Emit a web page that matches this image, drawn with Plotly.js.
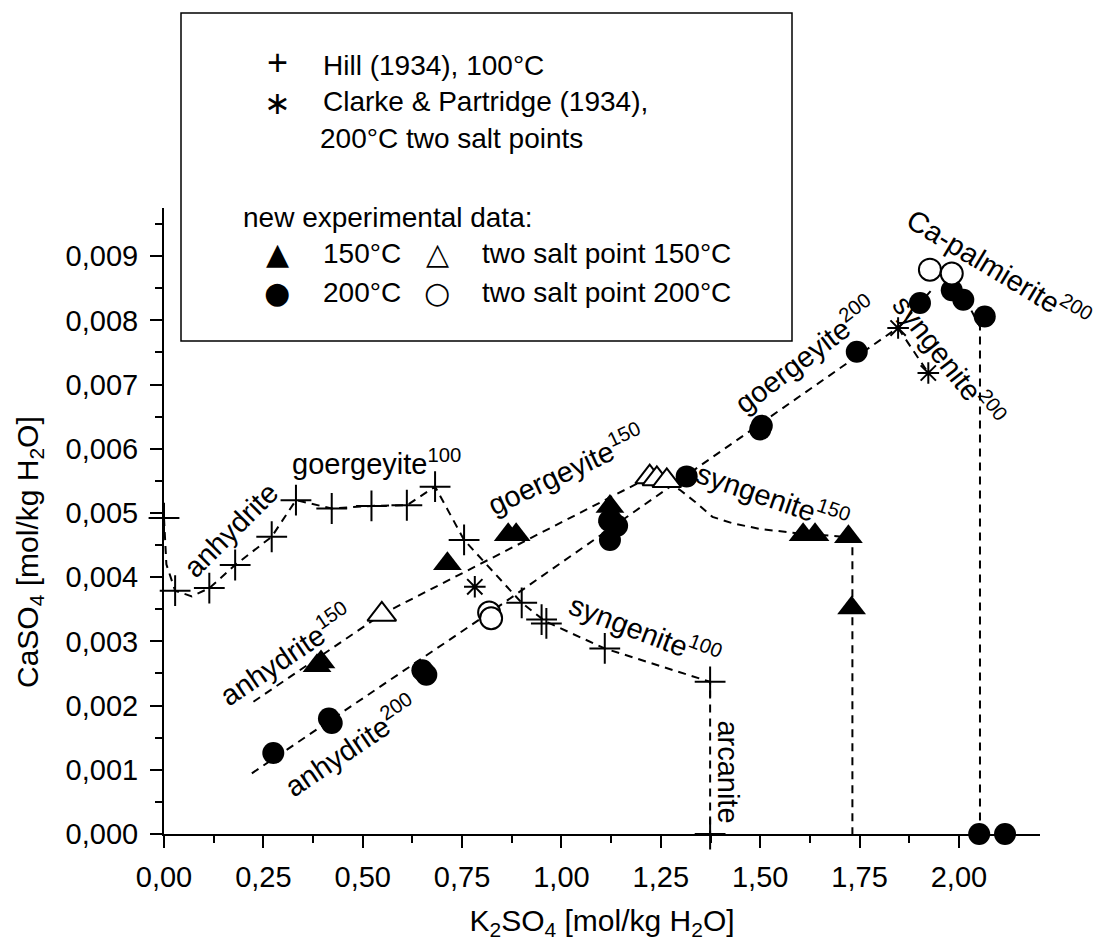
<!DOCTYPE html>
<html><head><meta charset="utf-8">
<script src="https://cdn.plot.ly/plotly-3.0.1.min.js"></script>
<style>html,body{margin:0;padding:0;background:#fff}</style>
</head><body><div id="chart" style="width:1101px;height:941px"></div>
<script>
// ---------- data ----------
// Hill (1934), 100 °C
const hillX = [0, 0.028, 0.114, 0.179, 0.271, 0.332, 0.422, 0.522, 0.611, 0.682, 0.755, 0.900, 0.950, 0.962, 1.109, 1.374, 1.374];
const hillY = [0.00492, 0.00379, 0.00383, 0.00419, 0.00463, 0.00520, 0.00507, 0.00511, 0.00512, 0.00541, 0.00458, 0.00360, 0.00334, 0.00328, 0.00289, 0.00237, 0];
// Clarke & Partridge (1934), 200 °C two salt points
const clarkeX = [0.782, 1.847, 1.923];
const clarkeY = [0.00385, 0.00788, 0.00718];
// new data 150 °C
const t150X = [0.385, 0.395, 0.713, 0.866, 0.886, 1.122, 1.128, 1.608, 1.638, 1.722, 1.730];
const t150Y = [0.00262, 0.00268, 0.00421, 0.00466, 0.00466, 0.00510, 0.00495, 0.00466, 0.00466, 0.00463, 0.00352];
// two salt points 150 °C
const t150TwoX = [0.548, 1.222, 1.240, 1.265];
const t150TwoY = [0.00342, 0.00556, 0.00553, 0.00550];
// new data 200 °C
const c200X = [0.275, 0.415, 0.422, 0.650, 0.660, 1.120, 1.140, 1.122, 1.315, 1.500, 1.504, 1.743, 1.902, 1.982, 2.011, 2.065, 2.051, 2.116];
const c200Y = [0.00126, 0.00180, 0.00173, 0.00255, 0.00248, 0.00488, 0.00480, 0.00458, 0.00557, 0.00630, 0.00636, 0.00751, 0.00827, 0.00847, 0.00832, 0.00806, 0, 0];
// two salt points 200 °C
const c200TwoX = [0.818, 0.823, 1.927, 1.982];
const c200TwoY = [0.00345, 0.00336, 0.00879, 0.00873];

// dashed solubility curves
const curve100X = [0, 0.006, 0.028, 0.070, 0.114, 0.179, 0.271, 0.332, 0.422, 0.522, 0.611, 0.682, 0.755, 0.900, 0.960, 1.109, 1.374, 1.374];
const curve100Y = [0.00492, 0.00420, 0.00379, 0.00370, 0.00383, 0.00419, 0.00463, 0.00520, 0.00507, 0.00511, 0.00512, 0.00541, 0.00458, 0.00360, 0.00331, 0.00289, 0.00237, 0];
const curve150X = [0.225, 0.548, 1.235];
const curve150Y = [0.00206, 0.00342, 0.00560];
const syn150X = [1.265, 1.300, 1.335, 1.380, 1.430, 1.500, 1.600, 1.732, 1.732];
const syn150Y = [0.00550, 0.00535, 0.00518, 0.00494, 0.00484, 0.00475, 0.00468, 0.00462, 0];
const curve200X = [0.221, 0.820, 1.850, 1.935];
const curve200Y = [0.000945, 0.00345, 0.00790, 0.00850];
const syn200X = [1.847, 1.923];
const syn200Y = [0.00788, 0.00718];
const pal200X = [1.982, 2.053, 2.053];
const pal200Y = [0.00873, 0.00790, 0];

// phase labels
const labelText = ['anhydrite', 'goergeyite<sup>100</sup>', 'goergeyite<sup>150</sup>', 'syngenite<sup>100</sup>', 'arcanite',
  'syngenite<sup>150</sup>', 'anhydrite<sup>150</sup>', 'anhydrite<sup>200</sup>', 'goergeyite<sup>200</sup>', 'syngenite<sup>200</sup>', 'Ca-palmierite<sup>200</sup>'];
const labelX = [0.168, 0.535, 1.010, 1.210, 1.418, 1.532, 0.306, 0.470, 1.612, 1.975, 2.100];
const labelY = [0.004740, 0.005800, 0.00568, 0.003170, 0.000966, 0.00527, 0.00280, 0.001380, 0.00748, 0.00738, 0.00882];
const labelAngle = [-45, 0, -25, 21, 90, 19, -34, -34, -37, 52, 31];

// ticks
const xTickVals = [0, 0.25, 0.5, 0.75, 1.0, 1.25, 1.5, 1.75, 2.0];
const yTickVals = [0, 0.001, 0.002, 0.003, 0.004, 0.005, 0.006, 0.007, 0.008, 0.009];

// ---------- layout geometry ----------
const W = 1101, H = 941, L = 164, R = 61, T = 208, B = 107;
const px = v => (v - L) / (W - L - R);
const py = v => (H - B - v) / (H - T - B);
const FONT = 'Liberation Sans, Arial, sans-serif';

const dashLine = {color: 'black', width: 2, dash: '8px,6px'};
function curve(x, y) {
  return {x, y, type: 'scatter', mode: 'lines', line: dashLine, hoverinfo: 'skip', showlegend: false, cliponaxis: false};
}
function pts(x, y, marker, name) {
  return {x, y, name, type: 'scatter', mode: 'markers', marker, showlegend: false, cliponaxis: false};
}

const traces = [
  curve(curve100X, curve100Y),
  curve(curve150X, curve150Y),
  curve(syn150X, syn150Y),
  curve(curve200X, curve200Y),
  curve(syn200X, syn200Y),
  curve(pal200X, pal200Y),
  pts(hillX, hillY, {symbol: 'cross-thin-open', size: 22, color: 'black', line: {color: 'black', width: 2}}, 'Hill (1934), 100°C'),
  pts(clarkeX, clarkeY, {symbol: 'asterisk-open', size: 18, color: 'black', line: {color: 'black', width: 2}}, 'Clarke & Partridge (1934)'),
  pts(t150X, t150Y, {symbol: 'triangle-up', size: 25, color: 'black', line: {width: 0}}, '150°C'),
  pts(t150TwoX, t150TwoY, {symbol: 'triangle-up', size: 25, color: 'white', line: {color: 'black', width: 2}}, 'two salt point 150°C'),
  pts(c200X, c200Y, {symbol: 'circle', size: 22, color: 'black', line: {width: 0}}, '200°C'),
  pts(c200TwoX, c200TwoY, {symbol: 'circle', size: 22, color: 'white', line: {color: 'black', width: 2}}, 'two salt point 200°C')
];

const annotations = labelText.map((t, i) => ({
  x: labelX[i], y: labelY[i], xref: 'x', yref: 'y', text: t, textangle: labelAngle[i],
  showarrow: false, font: {family: FONT, size: 29, color: 'black'}, xanchor: 'center', yanchor: 'middle'
}));

// y axis title (placed as in the reference, slightly below the plot centre)
annotations.push({
  xref: 'paper', yref: 'paper', x: px(29), y: py(552), text: 'CaSO<sub>4</sub> [mol/kg H<sub>2</sub>O]',
  textangle: -90, showarrow: false, xanchor: 'center', yanchor: 'middle', font: {family: FONT, size: 30, color: 'black'}
});

// legend box contents
const legFont = {family: FONT, size: 28, color: 'black'};
function legText(t, x, y) {
  return {xref: 'paper', yref: 'paper', x: px(x), y: py(y), text: t, showarrow: false, xanchor: 'left', yanchor: 'middle', font: legFont};
}
function legGlyph(t, x, y, size, fam) {
  return {xref: 'paper', yref: 'paper', x: px(x), y: py(y), text: t, showarrow: false, xanchor: 'center', yanchor: 'middle',
    font: {family: fam || 'DejaVu Sans, sans-serif', size, color: 'black'}};
}
annotations.push(
  legGlyph('+', 277, 63, 36, FONT),
  legText('Hill (1934), 100°C', 321, 65),
  legGlyph('∗', 277, 103, 32),
  legText('Clarke & Partridge (1934),', 321, 102),
  legText('200°C two salt points', 318, 139),
  legText('new experimental data:', 241, 217),
  legGlyph('▲', 277, 253, 30),
  legText('150°C', 321, 253),
  legGlyph('△', 437, 253, 30),
  legText('two salt point 150°C', 480, 253),
  legGlyph('●', 277, 292, 30),
  legText('200°C', 321, 292),
  legGlyph('○', 437, 292, 30),
  legText('two salt point 200°C', 480, 292)
);

const layout = {
  width: W, height: H,
  margin: {l: L, r: R, t: T, b: B},
  paper_bgcolor: 'white', plot_bgcolor: 'white',
  separators: ',.',
  font: {family: FONT, size: 28, color: 'black'},
  showlegend: false,
  xaxis: {
    range: [0, 2.204], tickvals: xTickVals, tickformat: '.2f',
    showgrid: false, zeroline: false, showline: true, linecolor: 'black', linewidth: 2,
    ticks: 'outside', ticklen: 12, tickwidth: 2, tickcolor: 'black',
    tickfont: {family: FONT, size: 29, color: 'black'}, ticklabelstandoff: 4,
    minor: {dtick: 0.125, tick0: 0, ticks: 'outside', ticklen: 7, tickwidth: 2, tickcolor: 'black', showgrid: false},
    title: {text: 'K<sub>2</sub>SO<sub>4</sub> [mol/kg H<sub>2</sub>O]', font: {family: FONT, size: 30, color: 'black'}, standoff: 26},
    automargin: false, fixedrange: true
  },
  yaxis: {
    range: [0, 0.00975], tickvals: yTickVals, tickformat: '.3f',
    showgrid: false, zeroline: false, showline: true, linecolor: 'black', linewidth: 2,
    ticks: 'outside', ticklen: 12, tickwidth: 2, tickcolor: 'black',
    tickfont: {family: FONT, size: 29, color: 'black'}, ticklabelstandoff: 6,
    minor: {dtick: 0.0005, tick0: 0, ticks: 'outside', ticklen: 7, tickwidth: 2, tickcolor: 'black', showgrid: false},
    automargin: false, fixedrange: true
  },
  shapes: [{
    type: 'rect', xref: 'paper', yref: 'paper', x0: px(181), x1: px(792), y0: py(341), y1: py(13),
    line: {color: 'black', width: 1.5}, fillcolor: 'white', layer: 'below'
  }],
  annotations
};

Plotly.newPlot('chart', traces, layout, {displayModeBar: false, staticPlot: true});
</script></body></html>
